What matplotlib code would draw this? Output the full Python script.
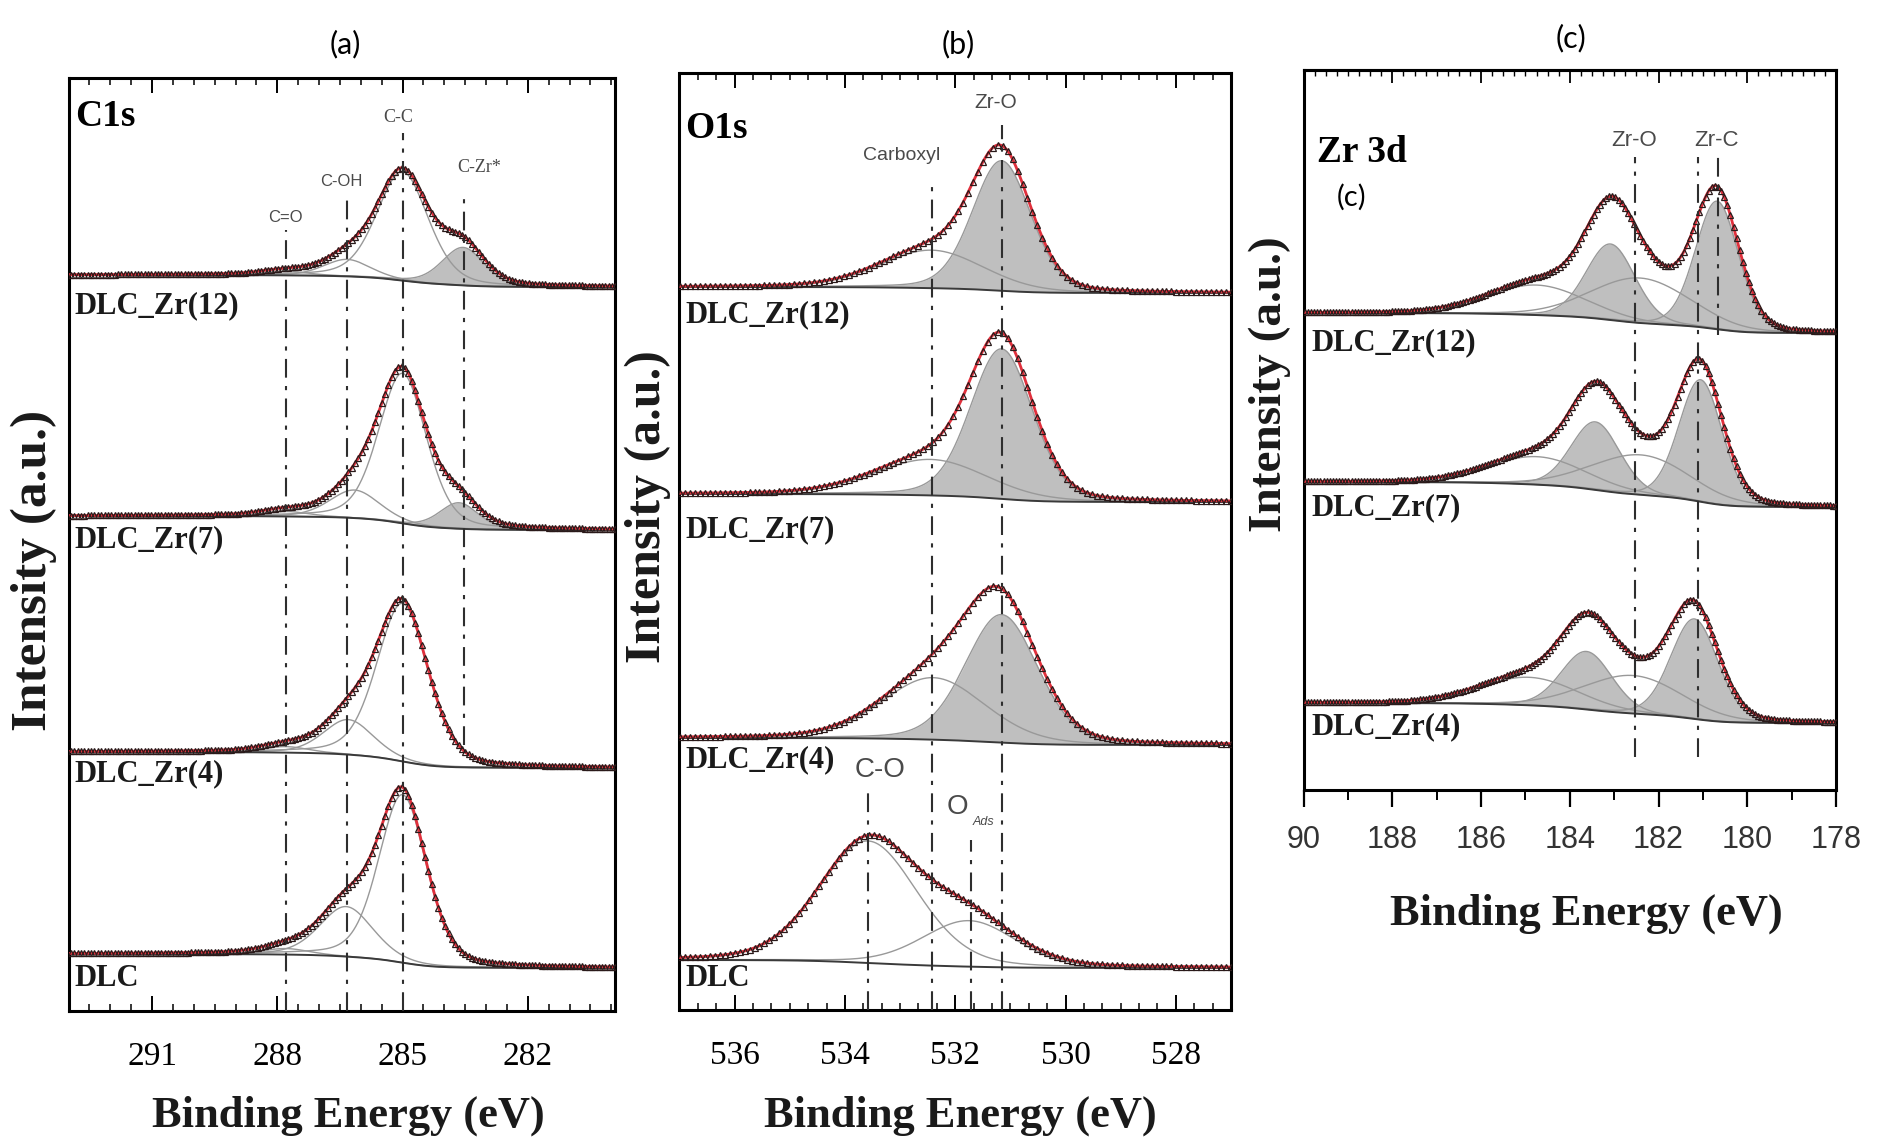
import numpy as np
import matplotlib
matplotlib.use('Agg')
import matplotlib.pyplot as plt
from matplotlib.ticker import MultipleLocator, FixedLocator, AutoMinorLocator, NullFormatter, FuncFormatter

SERIF = 'Liberation Serif'
SANS = 'Liberation Sans'

# ---------------- data (peak fits) ----------------
# C1s: components C=O, C-OH, C-C, C-Zr*   (position eV, height a.u., FWHM eV)
c1s_samples = ['DLC_Zr(12)', 'DLC_Zr(7)', 'DLC_Zr(4)', 'DLC']
c1s_center = [[287.8, 286.33, 285.0, 283.55],
              [287.8, 286.15, 285.0, 283.65],
              [287.8, 286.30, 285.0, 283.60],
              [287.8, 286.35, 285.0, 283.60]]
c1s_height = [[4, 17, 109, 38],
              [5, 28, 150, 26],
              [6, 35, 158, 0],
              [6, 50, 168, 0]]
c1s_fwhm = [[1.3, 1.3, 1.45, 1.2],
            [1.3, 1.4, 1.35, 1.1],
            [1.3, 1.4, 1.45, 1.2],
            [1.3, 1.5, 1.35, 1.2]]
c1s_filled = [False, False, False, True]
c1s_bg = [(724, 736), (481, 495), (243, 259), (43, 57)]   # (low BE side, high BE side)

# O1s: components Carboxyl / C-O, Zr-O / O_Ads
o1s_samples = ['DLC_Zr(12)', 'DLC_Zr(7)', 'DLC_Zr(4)', 'DLC']
o1s_center = [[532.43, 531.16], [532.45, 531.16], [532.40, 531.16], [533.58, 531.75]]
o1s_height = [[38, 130], [36, 150], [62, 128], [122, 46]]
o1s_fwhm = [[2.2, 1.25], [2.4, 1.33], [2.2, 1.55], [2.1, 2.0]]
o1s_filled = [[False, True], [False, True], [False, True], [False, False]]
o1s_bg = [(717, 723), (508, 516), (265, 272), (42, 50)]

# Zr 3d: ZrC 3d5/2, ZrC 3d3/2, ZrO2 3d5/2, ZrO2 3d3/2
zr_samples = ['DLC_Zr(12)', 'DLC_Zr(7)', 'DLC_Zr(4)']
zr_center = [[180.68, 183.08, 182.40, 184.75],
             [181.05, 183.42, 182.40, 184.74],
             [181.19, 183.62, 182.58, 184.92]]
zr_height = [[128, 76, 45, 30],
             [122, 68, 40, 28],
             [100, 58, 38, 28]]
zr_fwhm = [[1.15, 1.3, 2.6, 2.6],
           [1.15, 1.3, 2.6, 2.6],
           [1.25, 1.35, 2.6, 2.6]]
zr_filled = [True, True, False, False]
zr_bg = [(457, 477), (283, 308), (67, 87)]


def pv(x, c, h, w, eta):
    d = (x - c) / w
    return h * ((1 - eta) * np.exp(-4 * np.log(2) * d ** 2) + eta / (1 + 4 * d ** 2))


def draw_spectrum(ax, x, cen, hgt, fw, filled, bg, eta, step):
    comps = [pv(x, c, h, w, eta) for c, h, w in zip(cen, hgt, fw)]
    total = np.sum(comps, axis=0)
    cum = np.cumsum(total)
    cum = cum / cum[-1]
    base = bg[0] + (bg[1] - bg[0]) * cum      # shirley-like step
    for comp, f in zip(comps, filled):
        if comp.max() < 0.5:
            continue
        if f:
            ax.fill_between(x, base, base + comp, color='#bfbfbf', lw=0, zorder=1)
        ax.plot(x, base + comp, color='#999999', lw=1.0, zorder=2)
    ax.plot(x, base, color='#3a3a3a', lw=1.4, zorder=2)
    env = base + total
    ax.plot(x, env, color='#e0303c', lw=2.0, zorder=3)
    idx = np.arange(0, len(x), step)
    ax.plot(x[idx], env[idx], ls='none', marker='^', ms=5, mfc='none',
            mec='#2a1a1a', mew=0.9, zorder=4)


def vline(ax, x, y0, y1):
    ax.plot([x, x], [y0, y1], color='#2e2e2e', lw=1.5, ls=(0, (9, 4, 2, 4)), zorder=5)


fig = plt.figure(figsize=(18.81, 11.43), dpi=100)
W, H = 1881, 1143


def add_axes(l, r, t, b):
    return fig.add_axes([l / W, (H - b) / H, (r - l) / W, (b - t) / H])


ax_a = add_axes(68.6, 615.5, 78, 1011)
ax_b = add_axes(679.5, 1231, 73, 1010)
ax_c = add_axes(1303.6, 1836, 70, 790)

for ax in (ax_a, ax_b, ax_c):
    for sp in ax.spines.values():
        sp.set_linewidth(2.2)
    ax.set_yticks([])

lab_kw = dict(fontsize=22, fontweight='bold', family=SERIF, va='center', ha='left', color='#1a1a1a')
note_kw = dict(family=SANS, color='#4a4a4a', ha='center', va='center')

# ---------------- (a) C1s ----------------
xa = np.linspace(279.9, 293.0, 1311)
for i in range(4):
    draw_spectrum(ax_a, xa, c1s_center[i], c1s_height[i], c1s_fwhm[i], c1s_filled,
                  c1s_bg[i], 0.3, 8)
ax_a.set_xlim(293.0, 279.9)
ax_a.set_ylim(0, 933)
vline(ax_a, 287.8, 0, 781)
vline(ax_a, 286.33, 0, 811)
vline(ax_a, 285.0, 0, 878)
vline(ax_a, 283.53, 266, 818)
for name, y in zip(c1s_samples, [705, 471, 237, 33]):
    ax_a.text(292.85, y, name, **lab_kw)
ax_a.text(292.85, 894, 'C1s', fontsize=27, fontweight='bold', family=SERIF, va='center', ha='left')
ax_a.text(285.1, 893, 'C-C', fontsize=13, family=SERIF, color='#4a4a4a', ha='center', va='center')
ax_a.text(286.47, 829, 'C-OH', fontsize=12, family=SANS, color='#4a4a4a', ha='center', va='center')
ax_a.text(287.8, 794, 'C=O', fontsize=12, family=SANS, color='#4a4a4a', ha='center', va='center')
ax_a.text(283.17, 844, 'C-Zr*', fontsize=13, family=SERIF, color='#4a4a4a', ha='center', va='center')
ax_a.xaxis.set_major_locator(FixedLocator([291, 288, 285, 282]))
ax_a.xaxis.set_minor_locator(MultipleLocator(0.5))

# ---------------- (b) O1s ----------------
xb = np.linspace(527.0, 537.0, 1001)
for i in range(4):
    draw_spectrum(ax_b, xb, o1s_center[i], o1s_height[i], o1s_fwhm[i], o1s_filled[i],
                  o1s_bg[i], 0.2, 9)
ax_b.set_xlim(537.0, 527.0)
ax_b.set_ylim(0, 937)
vline(ax_b, 532.43, 0, 823)
vline(ax_b, 531.16, 0, 885)
vline(ax_b, 533.58, 0, 217)
vline(ax_b, 531.71, 0, 170)
for name, y in zip(o1s_samples, [695, 480, 250, 32]):
    ax_b.text(536.9, y, name, **lab_kw)
ax_b.text(536.9, 882, 'O1s', fontsize=27, fontweight='bold', family=SERIF, va='center', ha='left')
ax_b.text(531.27, 907, 'Zr-O', fontsize=15, **note_kw)
ax_b.text(532.97, 855, 'Carboxyl', fontsize=14, **note_kw)
ax_b.text(533.37, 240, 'C-O', fontsize=20, **note_kw)
ax_b.text(531.96, 203, 'O', fontsize=20, **note_kw)
ax_b.text(531.49, 188, 'Ads', fontsize=9, style='italic', **note_kw)
ax_b.xaxis.set_major_locator(MultipleLocator(2))
ax_b.xaxis.set_minor_locator(AutoMinorLocator(6))

for ax in (ax_a, ax_b):
    ax.tick_params(axis='x', which='both', direction='in', top=True, bottom=True)
    ax.tick_params(axis='x', which='major', length=11, width=1.4, pad=22)
    ax.tick_params(axis='x', which='minor', length=5, width=1.1)
    for t in ax.get_xticklabels():
        t.set_family(SERIF)
        t.set_fontsize(24)

# ---------------- (c) Zr 3d ----------------
xc = np.linspace(178.0, 190.0, 1201)
for i in range(3):
    draw_spectrum(ax_c, xc, zr_center[i], zr_height[i], zr_fwhm[i], zr_filled,
                  zr_bg[i], 0.15, 7)
ax_c.set_xlim(190.0, 178.0)
ax_c.set_ylim(0, 720)
vline(ax_c, 182.54, 33, 633)
vline(ax_c, 181.10, 33, 633)
vline(ax_c, 180.65, 455, 633)
for name, y in zip(zr_samples, [447, 282, 63]):
    ax_c.text(189.83, y, name, **lab_kw)
ax_c.text(189.69, 638, 'Zr 3d', fontsize=27, fontweight='bold', family=SERIF, va='center', ha='left')
ax_c.text(188.92, 593, '(c)', fontsize=21, family='Lato', ha='center', va='center')
ax_c.text(182.54, 650, 'Zr-O', fontsize=16, **note_kw)
ax_c.text(180.70, 650, 'Zr-C', fontsize=16, **note_kw)
ax_c.xaxis.set_major_locator(MultipleLocator(2))
ax_c.xaxis.set_minor_locator(MultipleLocator(1))
ax_c.xaxis.set_major_formatter(FuncFormatter(lambda v, p: '90' if abs(v - 190) < 0.01 else '%d' % v))
ax_c.tick_params(axis='x', which='both', direction='out', top=False, bottom=True)
ax_c.tick_params(axis='x', which='major', length=12, width=1.6, pad=13)
ax_c.tick_params(axis='x', which='minor', length=7, width=1.4)
for t in ax_c.get_xticklabels():
    t.set_family(SANS)
    t.set_fontsize(22)
    t.set_color('#333333')
sec = ax_c.secondary_xaxis('top')
sec.xaxis.set_major_locator(MultipleLocator(2))
sec.xaxis.set_minor_locator(MultipleLocator(0.25))
sec.xaxis.set_major_formatter(NullFormatter())
sec.tick_params(axis='x', which='major', direction='in', length=9, width=1.3)
sec.tick_params(axis='x', which='minor', direction='in', length=4.5, width=1.0)
sec.spines['top'].set_linewidth(2.2)

# ---------------- titles and axis labels ----------------
for txt, xp, yp in [('(a)', 345, 44), ('(b)', 958, 44), ('(c)', 1571, 38)]:
    fig.text(xp / W, 1 - yp / H, txt, fontsize=22, family='Lato', ha='center', va='center')
for xp, yp in [(348, 1116), (960, 1116), (1586, 914)]:
    fig.text(xp / W, 1 - yp / H, 'Binding Energy (eV)', fontsize=32, fontweight='bold',
             family=SERIF, ha='center', va='center', color='#1a1a1a')
for xp, yp, fs in [(34, 570, 37), (648, 507, 36), (1270, 384, 34)]:
    fig.text(xp / W, 1 - yp / H, 'Intensity (a.u.)', fontsize=fs, fontweight='bold',
             family=SERIF, ha='center', va='center', rotation=90, color='#1a1a1a')

fig.savefig('out.png', dpi=100)
